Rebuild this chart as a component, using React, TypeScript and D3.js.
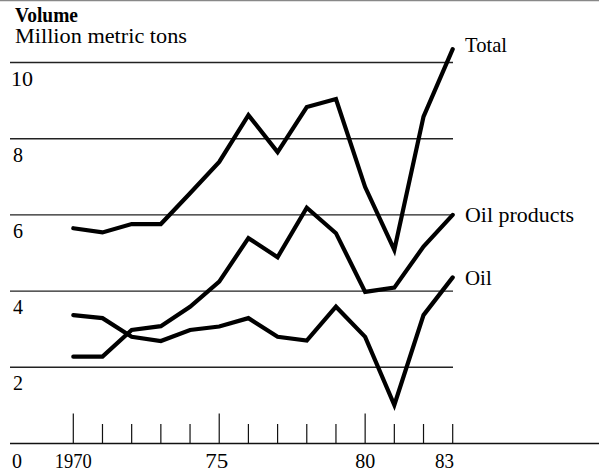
import React from "react";
import * as d3 from "d3";

const years = [1970, 1971, 1972, 1973, 1974, 1975, 1976, 1977, 1978, 1979, 1980, 1981, 1982, 1983];
const total = [5.65, 5.54, 5.76, 5.76, 6.57, 7.39, 8.62, 7.65, 8.83, 9.04, 6.73, 5.08, 8.58, 10.35];
const oilProducts = [2.28, 2.28, 2.98, 3.08, 3.59, 4.25, 5.39, 4.89, 6.19, 5.52, 3.98, 4.09, 5.17, 6.0];
const oil = [3.37, 3.29, 2.8, 2.69, 2.98, 3.07, 3.29, 2.8, 2.7, 3.59, 2.8, 1.01, 3.37, 4.36];
const yTicks = [2, 4, 6, 8, 10];
const xLabels: [number, string][] = [[1970, "1970"], [1975, "75"], [1980, "80"], [1983, "83"]];
const seriesNames = ["Total", "Oil products", "Oil"];

export default function App() {
  const W = 599, H = 474;
  const x = d3.scaleLinear().domain([1970, 1983]).range([73.3, 452.7]);
  const y = d3.scaleLinear().domain([0, 10]).range([443.5, 62.5]);
  const line = d3.line<number>().x((_, i) => x(years[i])).y((d) => y(d));
  const series = [total, oilProducts, oil];
  const font = "'Liberation Serif', 'Times New Roman', serif";
  const labelY = [51.7, 222.3, 285];
  const labelW = [42, 109, 26.7];
  const xLabelDx = [-18.5, -14, -10, -17.7];
  const xLabelW = [37, 23, 20, 19];
  return (
    <svg width={W} height={H} style={{ position: "absolute", left: 0, top: 0, background: "#fff" }} fontFamily={font}>
      <line x1={0} x2={W} y1={0.5} y2={0.5} stroke="#888" strokeWidth={1.5} />
      <text x={15} y={21.5} fontSize={20} fontWeight="bold" textLength={63} lengthAdjust="spacingAndGlyphs">Volume</text>
      <text x={15} y={43} fontSize={20} textLength={172} lengthAdjust="spacingAndGlyphs">Million metric tons</text>
      {yTicks.map((t) => (
        <g key={t}>
          <line x1={10} x2={453} y1={y(t)} y2={y(t)} stroke="#222" strokeWidth={1.4} />
          <text x={t === 10 ? 11 : 13} y={y(t) + 23} fontSize={21} textLength={t === 10 ? 22 : 10} lengthAdjust="spacingAndGlyphs">{t}</text>
        </g>
      ))}
      <line x1={10} x2={W} y1={y(0)} y2={y(0)} stroke="#111" strokeWidth={1.4} />
      {years.map((yr) => (
        <line key={yr} x1={x(yr)} x2={x(yr)} y1={y(0)} y2={yr % 5 === 0 ? y(0) - 30 : y(0) - 19.5} stroke="#111" strokeWidth={1.2} />
      ))}
      <text x={12} y={468} fontSize={21} textLength={10} lengthAdjust="spacingAndGlyphs">0</text>
      {xLabels.map(([yr, s], i) => (
        <text key={s} x={x(yr) + xLabelDx[i]} y={468} fontSize={21} textLength={xLabelW[i]} lengthAdjust="spacingAndGlyphs">{s}</text>
      ))}
      {series.map((s, i) => (
        <path key={i} d={line(s) || ""} fill="none" stroke="#000" strokeWidth={4.2} strokeLinejoin="miter" strokeLinecap="round" />
      ))}
      {seriesNames.map((n, i) => (
        <text key={n} x={465} y={labelY[i]} fontSize={21} textLength={labelW[i]} lengthAdjust="spacingAndGlyphs">{n}</text>
      ))}
    </svg>
  );
}
